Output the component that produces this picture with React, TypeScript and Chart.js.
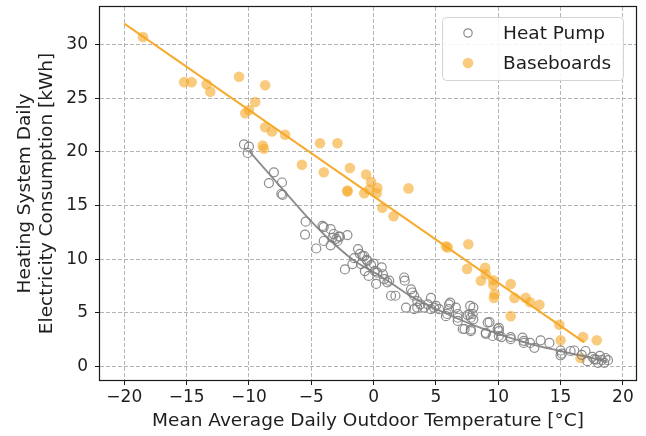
import React, { useEffect, useRef } from 'react';
import { Chart, registerables } from 'chart.js';

Chart.register(...registerables);

// ---- Data ----
const heatPumpTemp = [
  -10.4, -10.0, -10.1, -8.0, -8.4, -7.35, -7.4, -7.3, -5.45, -5.5,
  -4.1, -4.0, -3.45, -4.0, -3.3, -2.9, -2.8, -2.1, -4.6, -3.45,
  -3.2, -2.7, -3.0, -1.25, -1.1, -1.55, -0.75, -0.55, -2.3, -1.7,
  -1.0, -0.9, -0.5, -0.2, 0.0, -0.7, -0.4, 0.1, 0.3, 0.65,
  0.75, 0.85, 0.2, 1.1, 1.25, 1.4, 1.75, 2.45, 2.5, 3.0,
  3.1, 3.25, 3.5, 2.6, 3.25, 3.5, 3.75, 4.05, 4.6, 4.35,
  4.6, 4.85, 5.0, 5.25, 6.05, 6.15, 6.05, 5.9, 5.8, 6.6,
  6.75, 6.75, 6.75, 7.55, 7.7, 7.8, 7.75, 8.0, 7.15, 7.3,
  7.8, 7.8, 7.95, 8.0, 9.15, 9.3, 9.0, 9.0, 9.55, 9.95,
  10.05, 10.05, 10.05, 10.25, 11.0, 11.0, 11.95, 12.05, 12.05, 12.55,
  12.9, 13.4, 14.1, 15.0, 15.0, 15.8, 16.1, 17.0, 17.15, 17.55,
  17.85, 18.15, 18.3, 18.5, 18.8, 18.0, 18.6, 17.7, 15.1, 16.7,
];
const heatPumpKwh = [
  20.7, 20.5, 19.9, 18.1, 17.1, 17.15, 16.1, 16.0, 13.5, 12.3,
  13.1, 13.0, 12.8, 11.7, 12.0, 11.7, 12.1, 12.25, 11.0, 11.3,
  12.35, 12.1, 11.9, 10.95, 10.5, 10.1, 10.3, 9.95, 9.05, 9.55,
  9.55, 10.3, 9.85, 9.45, 9.6, 8.9, 8.45, 8.9, 8.75, 9.25,
  8.6, 8.15, 7.7, 7.85, 8.0, 6.6, 6.6, 8.3, 8.0, 7.2,
  6.9, 6.6, 6.1, 5.5, 5.35, 5.5, 5.8, 5.5, 6.4, 5.8,
  5.35, 5.5, 5.65, 5.35, 5.8, 5.95, 5.35, 4.9, 4.7, 5.5,
  4.9, 4.25, 4.55, 4.8, 4.9, 4.55, 5.65, 5.5, 3.5, 3.5,
  3.45, 3.3, 4.9, 4.4, 4.1, 4.15, 3.15, 3.05, 2.85, 3.5,
  3.6, 3.3, 2.85, 2.75, 2.75, 2.55, 2.7, 2.4, 2.2, 2.2,
  1.75, 2.45, 2.2, 1.5, 1.05, 1.45, 1.5, 1.45, 0.5, 0.9,
  0.65, 1.0, 0.6, 0.35, 0.6, 0.35, 0.8, 0.7, 1.2, 1.1,
];

const baseboardTemp = [
  -18.5, -15.2, -14.6, -13.4, -13.1, -10.8, -8.7, -9.5, -10.0, -10.3,
  -8.7, -8.15, -8.9, -8.8, -7.1, -4.3, -2.9, -5.75, -4.0, -1.9,
  -0.6, -0.2, -2.1, -2.1, -0.75, -0.35, 0.3, 0.25, 0.7, 1.6,
  2.8, 5.8, 5.95, 7.6, 7.5, 8.95, 8.6, 9.0, 9.6, 9.6,
  9.7, 9.65, 11.0, 11.3, 12.2, 12.55, 13.3, 11.0, 14.9, 15.0,
  16.8, 17.9, 16.6,
];
const baseboardKwh = [
  30.7, 26.5, 26.5, 26.3, 25.6, 27.0, 26.2, 24.65, 23.9, 23.6,
  22.3, 21.9, 20.6, 20.3, 21.6, 20.8, 20.8, 18.8, 18.1, 18.5,
  17.9, 17.2, 16.4, 16.3, 16.15, 16.5, 16.65, 16.15, 14.8, 14.0,
  16.6, 11.2, 11.1, 11.4, 9.1, 9.2, 8.0, 8.6, 8.05, 7.6,
  6.75, 6.4, 7.7, 6.4, 6.4, 6.0, 5.75, 4.7, 3.9, 2.45,
  2.75, 2.45, 0.8,
];

const heatPumpFitTemp = [-10.0, -7.2, -5.3, -3.7, -1.6, 0.6, 3.2, 5.9, 8.6, 12.6, 15.0, 18.7];
const heatPumpFitKwh = [20.1, 16.4, 13.9, 12.0, 9.9, 8.4, 6.4, 4.9, 3.6, 2.1, 1.45, 0.5];

const baseboardFitTemp = [-20, 16.9];
const baseboardFitKwh = [31.95, 2.25];

const xTickValues = [-20, -15, -10, -5, 0, 5, 10, 15, 20];
const yTickValues = [0, 5, 10, 15, 20, 25, 30];
const seriesNames = ['Heat Pump', 'Baseboards'];

const xTitle = 'Mean Average Daily Outdoor Temperature [°C]';
const yTitle = ['Heating System Daily', 'Electricity Consumption [kWh]'];

// ---- Styles ----
const FONT = 'DejaVu Sans';
const TEXT = '#1e1e1e';
const GRAY = 'rgba(128,128,128,0.9)';
const ORANGE_PT = 'rgba(245,168,40,0.6)';
const ORANGE_LINE = 'rgba(245,166,35,0.95)';

const zip = (xs: number[], ys: number[]) => xs.map((x, i) => ({ x, y: ys[i] }));
const fmt = (v: number) => (v < 0 ? '\u2212' + Math.abs(v) : String(v));

const framePlugin = {
  id: 'frame',
  afterDatasetsDraw(chart: any) {
    const { ctx, chartArea } = chart;
    ctx.save();
    ctx.strokeStyle = '#1a1a1a';
    ctx.lineWidth = 1.2;
    ctx.strokeRect(
      chartArea.left - 0.5,
      chartArea.top - 0.5,
      chartArea.right - chartArea.left + 1,
      chartArea.bottom - chartArea.top + 1
    );
    ctx.restore();
  },
};

const legendPlugin = {
  id: 'innerLegend',
  afterDraw(chart: any) {
    const { ctx, chartArea } = chart;
    const bw = 181;
    const bh = 63;
    const bx = chartArea.right - 194;
    const by = chartArea.top + 10;
    ctx.save();
    ctx.beginPath();
    if ((ctx as any).roundRect) (ctx as any).roundRect(bx + 0.5, by + 0.5, bw, bh, 4);
    else ctx.rect(bx + 0.5, by + 0.5, bw, bh);
    ctx.fillStyle = 'rgba(255,255,255,0.85)';
    ctx.fill();
    ctx.strokeStyle = '#d4d4d4';
    ctx.lineWidth = 1;
    ctx.stroke();

    const mx = bx + 26;
    const y1 = by + 16;
    const y2 = by + 46;
    ctx.beginPath();
    ctx.arc(mx, y1, 4.2, 0, Math.PI * 2);
    ctx.strokeStyle = GRAY;
    ctx.lineWidth = 1.2;
    ctx.stroke();
    ctx.beginPath();
    ctx.arc(mx, y2, 5.3, 0, Math.PI * 2);
    ctx.fillStyle = ORANGE_PT;
    ctx.fill();

    ctx.fillStyle = TEXT;
    ctx.font = `18.5px "${FONT}"`;
    ctx.textAlign = 'left';
    ctx.textBaseline = 'middle';
    ctx.fillText(seriesNames[0], bx + 61, y1 + 1);
    ctx.fillText(seriesNames[1], bx + 61, y2 + 1);
    ctx.restore();
  },
};

const zeroPad = (s: any) => {
  s.paddingTop = 0;
  s.paddingBottom = 0;
  s.paddingLeft = 0;
  s.paddingRight = 0;
};

const gridStyle = {
  color: '#b4b4b4',
  lineWidth: 1,
  tickLength: 5,
  tickColor: '#1a1a1a',
  tickWidth: 1,
  tickBorderDash: [],
};

export default function App() {
  const ref = useRef<HTMLCanvasElement | null>(null);

  useEffect(() => {
    if (!ref.current) return;
    const chart = new Chart(ref.current, {
      type: 'scatter',
      data: {
        datasets: [
          {
            label: seriesNames[0] + ' fit',
            type: 'line',
            data: zip(heatPumpFitTemp, heatPumpFitKwh),
            borderColor: GRAY,
            borderWidth: 1.8,
            pointRadius: 0,
            showLine: true,
            fill: false,
            cubicInterpolationMode: 'monotone',
          } as any,
          {
            label: seriesNames[1] + ' fit',
            type: 'line',
            data: zip(baseboardFitTemp, baseboardFitKwh),
            borderColor: ORANGE_LINE,
            borderWidth: 2,
            pointRadius: 0,
            showLine: true,
            fill: false,
          } as any,
          {
            label: seriesNames[0],
            data: zip(heatPumpTemp, heatPumpKwh),
            pointRadius: 4.5,
            pointBorderWidth: 1.2,
            pointBackgroundColor: 'rgba(0,0,0,0)',
            pointBorderColor: GRAY,
          },
          {
            label: seriesNames[1],
            data: zip(baseboardTemp, baseboardKwh),
            pointRadius: 5.3,
            pointBorderWidth: 0,
            pointBackgroundColor: ORANGE_PT,
            pointBorderColor: 'rgba(0,0,0,0)',
          },
        ],
      },
      options: {
        responsive: false,
        animation: false,
        layout: { padding: { top: 7, right: 10, left: 0, bottom: 0 } },
        plugins: {
          legend: { display: false },
          tooltip: { enabled: false },
        },
        scales: {
          x: {
            type: 'linear',
            min: -21.95,
            max: 21.05,
            afterFit: (s: any) => {
              s.height = 56;
              zeroPad(s);
            },
            afterBuildTicks: (s: any) => {
              s.ticks = xTickValues.map((v) => ({ value: v }));
            },
            ticks: {
              includeBounds: false,
              padding: 2,
              color: TEXT,
              font: { family: FONT, size: 17 },
              callback: (v: any) => fmt(Number(v)),
            },
            grid: gridStyle as any,
            border: { display: false, dash: [4, 2] },
            title: {
              display: true,
              text: xTitle,
              color: TEXT,
              font: { family: FONT, size: 18.5, lineHeight: 1.2 },
              padding: { top: 0, bottom: 4 },
            },
          },
          y: {
            type: 'linear',
            min: -1.25,
            max: 33.5,
            afterFit: (s: any) => {
              s.width = 100;
              zeroPad(s);
            },
            afterBuildTicks: (s: any) => {
              s.ticks = yTickValues.map((v) => ({ value: v }));
            },
            ticks: {
              includeBounds: false,
              padding: 7,
              color: TEXT,
              font: { family: FONT, size: 17 },
              callback: (v: any) => fmt(Number(v)),
            },
            grid: gridStyle as any,
            border: { display: false, dash: [4, 2] },
            title: {
              display: true,
              text: yTitle,
              color: TEXT,
              font: { family: FONT, size: 18.5, lineHeight: 1.2 },
              padding: { top: 14, bottom: 0 },
            },
          },
        },
      } as any,
      plugins: [framePlugin, legendPlugin],
    });
    return () => chart.destroy();
  }, []);

  return (
    <div style={{ position: 'fixed', left: 0, top: 0, width: 646, height: 436, background: '#fff' }}>
      <canvas ref={ref} width={646} height={436} style={{ width: 646, height: 436 }} />
    </div>
  );
}
